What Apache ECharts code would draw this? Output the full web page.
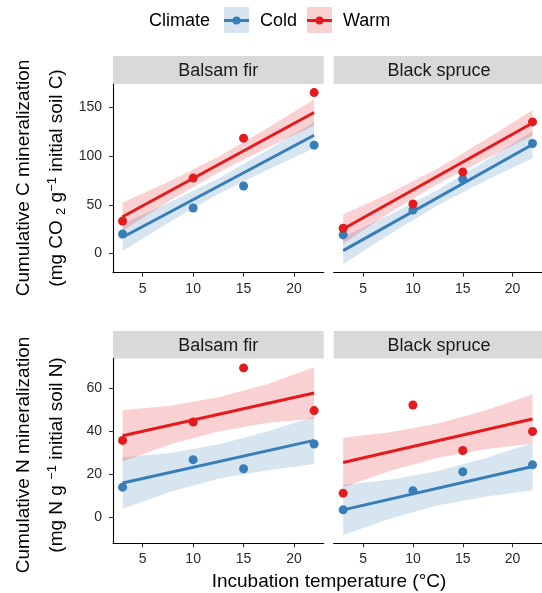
<!DOCTYPE html>
<html>
<head>
<meta charset="utf-8">
<script src="https://cdn.jsdelivr.net/npm/echarts@6/dist/echarts.min.js"></script>
<style>
  html, body { margin: 0; padding: 0; background: #fff; }
  #chart { width: 542px; height: 593px; }
</style>
</head>
<body>
<div id="chart"></div>
<script>
// incubation temperatures (x) and tick labels
const temps = [3, 10, 15, 22];
const fitX = [3, 22];
const bandX = [3, 7.75, 12.5, 17.25, 22];
const xTicks = [5, 10, 15, 20];
const cTicks = [0, 50, 100, 150];
const nTicks = [0, 20, 40, 60];
const panels = ['Balsam fir', 'Black spruce'];

// cumulative C mineralization, points
const cFirCold = [20.2, 46.8, 69.4, 111.4];
const cFirWarm = [33.5, 77.6, 118.6, 165.4];
const cSpruceCold = [19.2, 44.8, 76.5, 113.1];
const cSpruceWarm = [26.0, 50.9, 83.7, 135.3];
// fitted lines (at x = 3 and 22)
const cFirColdFit = [16.8, 121.6];
const cFirWarmFit = [37.9, 144.9];
const cSpruceColdFit = [3.1, 112.0];
const cSpruceWarmFit = [25.3, 134.2];
// confidence bands (at bandX)
const cFirColdLo = [2.8, 33.0, 61.2, 85.4, 108.1];
const cFirColdHi = [30.8, 53.0, 77.2, 105.4, 135.1];
const cFirWarmLo = [23.4, 54.7, 83.4, 108.2, 131.4];
const cFirWarmHi = [52.4, 74.7, 99.4, 128.2, 158.4];
const cSpruceColdLo = [-10.9, 20.3, 49.6, 74.8, 98.0];
const cSpruceColdHi = [17.1, 40.3, 65.6, 94.8, 126.0];
const cSpruceWarmLo = [10.3, 42.5, 71.8, 97.0, 121.2];
const cSpruceWarmHi = [40.3, 62.5, 87.8, 117.0, 147.2];

// cumulative N mineralization, points
const nFirCold = [14.0, 26.8, 22.6, 34.1];
const nFirWarm = [35.8, 44.4, 69.6, 49.7];
const nSpruceCold = [3.4, 12.3, 21.2, 24.4];
const nSpruceWarm = [11.2, 52.3, 31.1, 40.0];
const nFirColdFit = [15.9, 35.8];
const nFirWarmFit = [38.0, 57.9];
const nSpruceColdFit = [3.4, 23.6];
const nSpruceWarmFit = [25.5, 45.8];
const nFirColdLo = [3.9, 11.9, 17.9, 21.8, 24.8];
const nFirColdHi = [27.9, 29.9, 33.9, 39.8, 46.8];
const nFirWarmLo = [26.0, 34.0, 39.9, 43.9, 45.9];
const nFirWarmHi = [50.0, 52.0, 55.9, 61.9, 69.9];
const nSpruceColdLo = [-8.3, -0.6, 5.5, 9.5, 12.6];
const nSpruceColdHi = [15.1, 17.4, 21.5, 27.5, 34.6];
const nSpruceWarmLo = [14.0, 21.6, 27.7, 31.7, 34.3];
const nSpruceWarmHi = [37.0, 39.6, 43.7, 49.7, 57.3];

const COLD = '#377EB8';
const WARM = '#E41A1C';
const FONT = '"Liberation Sans", Arial, sans-serif';

const chart = echarts.init(document.getElementById('chart'), null, { renderer: 'canvas' });

// panel layout: [left, top, width, height]
const boxes = [
  [113, 84, 210.7, 188.7],
  [333.7, 84, 210.7, 188.7],
  [113, 358.5, 210.7, 184.8],
  [333.7, 358.5, 210.7, 184.8]
];

function bandSeries(ax, lo, hi, color) {
  return {
    type: 'custom', xAxisIndex: ax, yAxisIndex: ax, clip: true, silent: true, z: 1,
    data: bandX.map((x, i) => [x, lo[i], hi[i]]),
    encode: { x: 0, y: [1, 2] },
    renderItem(params, api) {
      if (params.dataIndex !== 0) return null;
      const top = bandX.map((x, i) => api.coord([x, hi[i]]));
      const bot = bandX.map((x, i) => api.coord([x, lo[i]])).reverse();
      return { type: 'polygon', shape: { points: top.concat(bot) }, style: { fill: color, opacity: 0.2 } };
    }
  };
}
function fitSeries(ax, ys, color) {
  return {
    type: 'line', xAxisIndex: ax, yAxisIndex: ax, z: 2, silent: true,
    data: fitX.map((x, i) => [x, ys[i]]), showSymbol: false,
    lineStyle: { color: color, width: 3 }, animation: false
  };
}
function pointSeries(ax, ys, color, name) {
  return {
    type: 'scatter', name: name, xAxisIndex: ax, yAxisIndex: ax, z: 3,
    data: temps.map((x, i) => [x, ys[i]]), symbolSize: 9,
    itemStyle: { color: color, opacity: 1 }
  };
}

const panelData = [
  [cFirColdLo, cFirColdHi, cFirWarmLo, cFirWarmHi, cFirColdFit, cFirWarmFit, cFirCold, cFirWarm],
  [cSpruceColdLo, cSpruceColdHi, cSpruceWarmLo, cSpruceWarmHi, cSpruceColdFit, cSpruceWarmFit, cSpruceCold, cSpruceWarm],
  [nFirColdLo, nFirColdHi, nFirWarmLo, nFirWarmHi, nFirColdFit, nFirWarmFit, nFirCold, nFirWarm],
  [nSpruceColdLo, nSpruceColdHi, nSpruceWarmLo, nSpruceWarmHi, nSpruceColdFit, nSpruceWarmFit, nSpruceCold, nSpruceWarm]
];

const series = [];
panelData.forEach((d, i) => {
  series.push(bandSeries(i, d[0], d[1], COLD));
  series.push(bandSeries(i, d[2], d[3], WARM));
  series.push(fitSeries(i, d[4], COLD));
  series.push(fitSeries(i, d[5], WARM));
  series.push(pointSeries(i, d[6], COLD, 'Cold'));
  series.push(pointSeries(i, d[7], WARM, 'Warm'));
});

const grids = boxes.map(b => ({ left: b[0], top: b[1], width: b[2], height: b[3], containLabel: false }));

const xAxes = boxes.map((b, i) => ({
  gridIndex: i, type: 'value', min: 2.05, max: 22.95,
  splitLine: { show: false },
  axisLine: { onZero: false, lineStyle: { color: '#000', width: 1.1 } },
  axisTick: { customValues: xTicks, length: 4, lineStyle: { color: '#333', width: 1.1 } },
  axisLabel: { customValues: xTicks, color: '#2b2b2b', fontSize: 14, fontFamily: FONT, margin: 9 }
}));

const yAxes = boxes.map((b, i) => {
  const isC = i < 2;
  const outer = i % 2 === 0;
  const ticks = isC ? cTicks : nTicks;
  return {
    gridIndex: i, type: 'value',
    min: isC ? -19.6 : -12.2, max: isC ? 174.2 : 74,
    splitLine: { show: false },
    axisLine: { show: outer, onZero: false, lineStyle: { color: '#000', width: 1.1 } },
    axisTick: { show: outer, customValues: ticks, length: 4, lineStyle: { color: '#333', width: 1.1 } },
    axisLabel: { show: outer, customValues: ticks, color: '#2b2b2b', fontSize: 14, fontFamily: FONT, margin: 11 }
  };
});

const graphics = [];
// facet strips
boxes.forEach((b, i) => {
  const stripTop = i < 2 ? 56 : 331;
  graphics.push({ type: 'rect', shape: { x: b[0], y: stripTop, width: b[2], height: b[1] - stripTop }, style: { fill: '#d9d9d9' }, silent: true });
  graphics.push({ type: 'text', x: b[0] + b[2] / 2, y: stripTop + (b[1] - stripTop) / 2 + 1,
    style: { text: panels[i % 2], font: '18px ' + FONT, fill: '#1a1a1a', textAlign: 'center', textVerticalAlign: 'middle' } });
});
// legend
graphics.push({ type: 'text', x: 149, y: 21, style: { text: 'Climate', font: '18px ' + FONT, fill: '#000', textVerticalAlign: 'middle' } });
[[224, COLD, 'Cold', 260], [307, WARM, 'Warm', 343]].forEach(k => {
  graphics.push({ type: 'rect', shape: { x: k[0], y: 7, width: 25, height: 26 }, style: { fill: k[1], opacity: 0.2 } });
  graphics.push({ type: 'line', shape: { x1: k[0], y1: 20.5, x2: k[0] + 25, y2: 20.5 }, style: { stroke: k[1], lineWidth: 3 } });
  graphics.push({ type: 'circle', shape: { cx: k[0] + 12.5, cy: 20.5, r: 4 }, style: { fill: k[1] } });
  graphics.push({ type: 'text', x: k[3], y: 21, style: { text: k[2], font: '18px ' + FONT, fill: '#000', textVerticalAlign: 'middle' } });
});
// axis titles
const richTitle = {
  n: { fontSize: 19, fontFamily: FONT, lineHeight: 22, fill: '#000' },
  sub: { fontSize: 13, fontFamily: FONT, lineHeight: 13, verticalAlign: 'bottom', fill: '#000' },
  sup: { fontSize: 13, fontFamily: FONT, lineHeight: 13, verticalAlign: 'top', fill: '#000' }
};
function yTitle(cx, cy, text, rich) {
  const st = { text: text, textAlign: 'center', textVerticalAlign: 'middle', fill: '#000' };
  if (rich) st.rich = richTitle; else st.font = '19px ' + FONT;
  graphics.push({ type: 'text', x: cx, y: cy, rotation: Math.PI / 2, style: st });
}
yTitle(24, 178, 'Cumulative C mineralization', false);
yTitle(57, 178, '{n|(mg CO }{sub|2}{n| g}{sup|\u22121}{n| initial soil C)}', true);
yTitle(24, 455, 'Cumulative N mineralization', false);
yTitle(57, 455, '{n|(mg N g }{sup|\u22121}{n| initial soil N)}', true);
graphics.push({ type: 'text', x: 329, y: 582, style: { text: 'Incubation temperature (\u00B0C)', font: '19px ' + FONT, fill: '#000', textAlign: 'center', textVerticalAlign: 'middle' } });

chart.setOption({
  animation: false,
  backgroundColor: '#fff',
  textStyle: { fontFamily: FONT },
  grid: grids,
  xAxis: xAxes,
  yAxis: yAxes,
  series: series,
  graphic: graphics
});
</script>
</body>
</html>
